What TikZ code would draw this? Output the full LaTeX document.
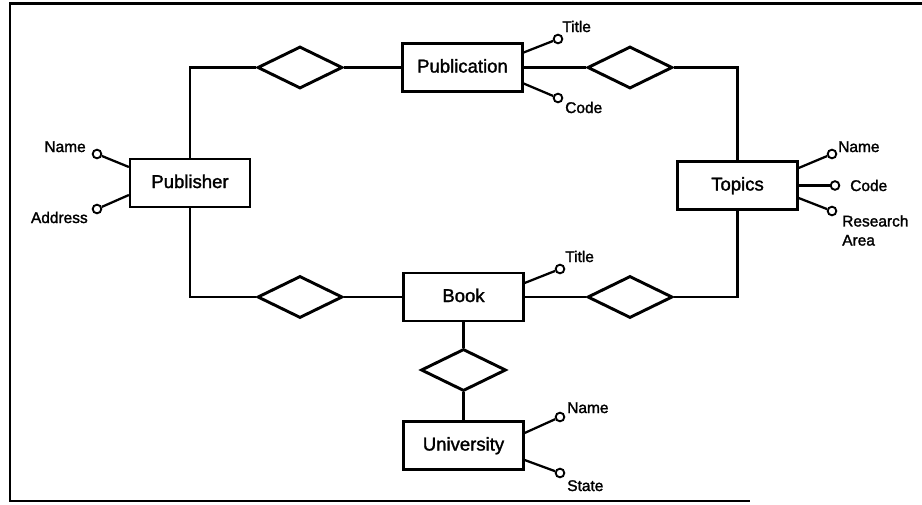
\documentclass[tikz,border=0pt]{standalone}
\usepackage{fontspec}
\setmainfont[FakeBold=1.6]{Liberation Sans}
\usetikzlibrary{shapes.geometric,calc}
\begin{document}
\begin{tikzpicture}[x=0.75pt,y=-0.75pt,
  entity/.style={draw,line width=1.7pt,minimum width=90pt,minimum height=36pt,inner sep=0pt,
    font=\fontsize{13.9}{16}\selectfont,text height=9.75pt,text depth=2.25pt},
  rel/.style={draw,diamond,line width=2.2pt,minimum width=63.75pt,minimum height=31.5pt,inner sep=0pt},
  attr/.style={draw,circle,line width=1.4pt,minimum size=6.5pt,inner sep=0pt,fill=white},
  lbl/.style={font=\fontsize{11.6}{14.3}\selectfont,inner sep=0pt},
  link/.style={line width=1.7pt},
  frame/.style={line width=1.7pt}
]
\useasboundingbox (0,0) rectangle (922,504);
% frame
\draw[frame] (922,3.5) -- (10,3.5) -- (10,501) -- (750,501);

% entities
\node[entity] (pub) at (462.5,67.5) {Publication};
\node[entity] (publ) at (190,183) {Publisher};
\node[entity] (top) at (737.5,185.5) {Topics};
\node[entity] (book) at (463.5,297) {Book};
\node[entity] (univ) at (463.5,445.5) {University};

% relationships
\node[rel] (r1) at (300,67.5) {};
\node[rel] (r2) at (630,67.5) {};
\node[rel] (r3) at (300,297) {};
\node[rel] (r4) at (630,297) {};
\node[rel] (r5) at (463.5,370) {};

% connectors
\draw[link] (publ.north) |- (r1.west);
\draw[link] (r1.east) -- (pub.west);
\draw[link] (pub.east) -- (r2.west);
\draw[link] (r2.east) -| (top.north);
\draw[link] (publ.south) |- (r3.west);
\draw[link] (r3.east) -- (book.west);
\draw[link] (book.east) -- (r4.west);
\draw[link] (r4.east) -| (top.south);
\draw[link] (book.south) -- (r5.north);
\draw[link] (r5.south) -- (univ.north);

% Publication attributes
\node[attr] (pubTc) at (558,39) {};
\node[attr] (pubCc) at (558,98) {};
\node[lbl,anchor=base west] (pubT) at (562,32) {Title};
\node[lbl,anchor=base west] (pubC) at (565,113) {Code};
\draw[link] ($(pub.east)+(0,-15)$) -- (pubTc);
\draw[link] ($(pub.east)+(0,16)$) -- (pubCc);

% Publisher attributes
\node[attr] (plNc) at (97,154) {};
\node[attr] (plAc) at (97,209) {};
\node[lbl,anchor=base east] (plN) at (86,152) {Name};
\node[lbl,anchor=base east] (plA) at (88,223) {Address};
\draw[link] ($(publ.west)+(0,-16)$) -- (plNc);
\draw[link] ($(publ.west)+(0,12)$) -- (plAc);

% Topics attributes
\node[attr] (tNc) at (832,154) {};
\node[attr] (tCc) at (835,185.5) {};
\node[attr] (tRc) at (832,211) {};
\node[lbl,anchor=base west] (tN) at (838,152) {Name};
\node[lbl,anchor=base west] (tC) at (850,191) {Code};
\node[lbl,anchor=north west,align=left] (tR) at (842,215) {Research\\Area};
\draw[link] ($(top.east)+(0,-17.5)$) -- (tNc);
\draw[link] (top.east) -- (tCc);
\draw[link] ($(top.east)+(0,12.5)$) -- (tRc);

% Book attributes
\node[attr] (bTc) at (560,269) {};
\node[lbl,anchor=base west] (bT) at (565,262) {Title};
\draw[link] ($(book.east)+(0,-14)$) -- (bTc);

% University attributes
\node[attr] (uNc) at (560,417) {};
\node[attr] (uSc) at (560,473) {};
\node[lbl,anchor=base west] (uN) at (567,413) {Name};
\node[lbl,anchor=base west] (uS) at (567,491) {State};
\draw[link] ($(univ.east)+(0,-12.5)$) -- (uNc);
\draw[link] ($(univ.east)+(0,14.5)$) -- (uSc);
\end{tikzpicture}
\end{document}
